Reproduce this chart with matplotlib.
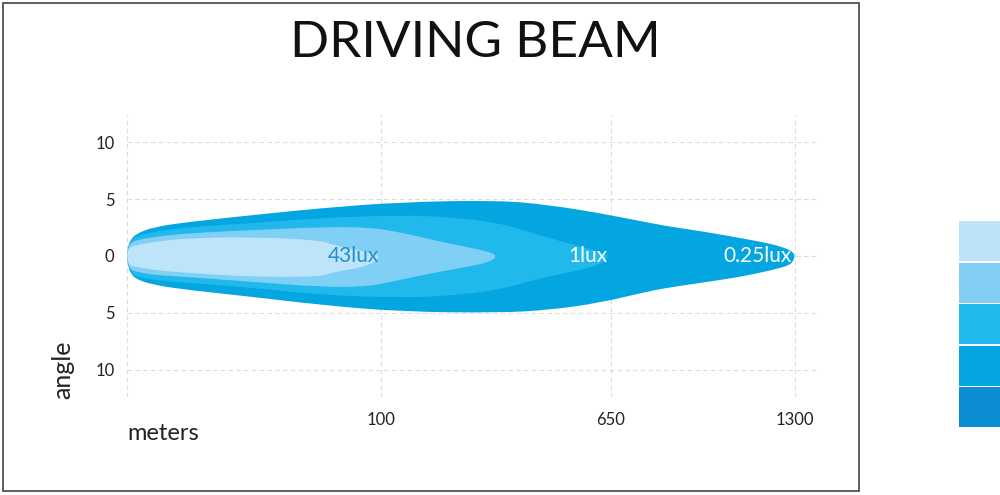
import matplotlib
matplotlib.use("Agg")
import matplotlib.pyplot as plt
from matplotlib.patches import Rectangle, PathPatch
from matplotlib.path import Path

plt.rcParams['font.family'] = ['Lato', 'DejaVu Sans']

# beam outlines: x = chart position along the road, y = angle (deg)
# 0.25 lux (outer)
x_025 = [0, 1, 3, 8, 26, 60, 126, 193, 273, 373, 423, 473, 523, 546, 580, 613, 646, 663, 666, 668]
top_025 = [0, 0.8, 1.3, 1.9, 2.54, 2.98, 3.6, 4.2, 4.74, 4.9, 4.47, 3.77, 2.9, 2.54, 2.1, 1.58, 1.05, 0.53, 0.3, 0]
bot_025 = [0, -0.8, -1.4, -2.0, -2.54, -2.98, -3.6, -4.3, -4.9, -5.0, -4.74, -4.12, -3.07, -2.72, -2.28, -1.84, -1.23, -0.79, -0.45, 0]

# 1 lux
x_1 = [0, 1, 6, 10, 26, 60, 126, 193, 273, 323, 373, 406, 440, 473, 483]
top_1 = [0, 0.7, 1.58, 1.75, 2.1, 2.54, 2.9, 3.33, 3.6, 3.42, 2.9, 2.0, 1.14, 0.35, 0]
bot_1 = [0, -0.7, -1.67, -1.84, -2.1, -2.37, -2.8, -3.42, -3.68, -3.5, -2.98, -2.1, -1.49, -0.79, 0]

# intermediate
x_mid = [0, 1, 3, 10, 26, 60, 126, 193, 240, 273, 306, 340, 363, 370]
top_mid = [0, 0.6, 1.14, 1.4, 1.67, 2.0, 2.28, 2.54, 2.54, 2.1, 1.4, 0.79, 0.35, 0]
bot_mid = [0, -0.6, -1.2, -1.4, -1.67, -1.84, -2.28, -2.72, -2.72, -2.1, -1.49, -0.96, -0.53, 0]

# 43 lux (inner)
x_43 = [0, 1, 3, 10, 26, 60, 126, 193, 206, 240, 255]
top_43 = [0, 0.5, 0.79, 0.96, 1.23, 1.58, 1.67, 1.4, 0.96, 0.35, 0]
bot_43 = [0, -0.5, -0.88, -0.96, -1.23, -1.49, -1.84, -1.84, -1.4, -0.96, -0.2]

beam_colors = ['#03a6e1', '#21b8ec', '#80cff4', '#bde4f8']
legend_colors = ['#bde3f7', '#83cff4', '#21b8ec', '#03a6e1', '#0a8dd3']

lux_labels = ['43lux', '1lux', '0.25lux']
lux_colors = ['#1f8fd0', 'white', 'white']

x_ticks = [0, 254, 484, 668]
x_ticklabels = ['', '100', '650', '1300']
y_ticks = [10, 5, 0, -5, -10]
y_ticklabels = ['10', '5', '0', '5', '10']


def beam_path(xs, top, bot):
    # closed outline, drawn with quadratic curves through the midpoints
    pts = list(zip(xs, top)) + list(zip(xs[::-1], bot[::-1]))[1:-1]
    n = len(pts)
    mids = [((pts[i][0] + pts[(i + 1) % n][0]) / 2, (pts[i][1] + pts[(i + 1) % n][1]) / 2) for i in range(n)]
    verts = [mids[-1]]
    codes = [Path.MOVETO]
    for i in range(n):
        verts += [pts[i], mids[i]]
        codes += [Path.CURVE3, Path.CURVE3]
    return Path(verts, codes)


fig = plt.figure(figsize=(10, 4.95), dpi=100)
ax = fig.add_axes([0.127, 0.198, 0.693, 0.5697])

layers = [(x_025, top_025, bot_025), (x_1, top_1, bot_1), (x_mid, top_mid, bot_mid), (x_43, top_43, bot_43)]
for (xs, tp, bt), c in zip(layers, beam_colors):
    ax.add_patch(PathPatch(beam_path(xs, tp, bt), facecolor=c, edgecolor='none', zorder=2))

# labels sit just inside the tip of their layer
for lab, (xs, tp, bt), c in zip(lux_labels, [layers[3], layers[1], layers[0]], lux_colors):
    ax.text(xs[-1] - 3, 0, lab, color=c, fontsize=15, ha='right', va='center', zorder=3)

ax.set_xlim(0, 693)
ax.set_ylim(-12.4, 12.4)
ax.set_xticks(x_ticks)
ax.set_xticklabels(x_ticklabels)
ax.set_yticks(y_ticks)
ax.set_yticklabels(y_ticklabels)
ax.tick_params(length=0, labelsize=12, labelcolor='#222222')
ax.tick_params(axis='y', pad=9)
ax.tick_params(axis='x', pad=11)
ax.grid(True, color='#dcdcdc', linestyle=(0, (4, 3)), linewidth=0.8, zorder=0)
ax.set_axisbelow(True)
for s in ax.spines.values():
    s.set_visible(False)

fig.text(0.475, 1 - 43 / 495, 'DRIVING BEAM', fontsize=37, fontweight='normal',
         ha='center', va='center', color='#111111')
fig.text(0.063, 1 - 370 / 495, 'angle', fontsize=18, rotation=90, ha='center', va='center', color='#222222')
fig.text(0.127, 1 - 433 / 495, 'meters', fontsize=17, ha='left', va='center', color='#222222')

# frame
fig.patches.append(Rectangle((0.003, 4 / 495), 0.856, 488 / 495, transform=fig.transFigure,
                             fill=False, edgecolor='#444444', linewidth=1.2))

# colour key
for i, c in enumerate(legend_colors):
    y0 = 1 - (221 + i * 41.5 + 40) / 495
    fig.patches.append(Rectangle((0.959, y0), 0.05, 40 / 495, transform=fig.transFigure,
                                 facecolor=c, edgecolor='none'))

fig.savefig('out.png', dpi=100)
